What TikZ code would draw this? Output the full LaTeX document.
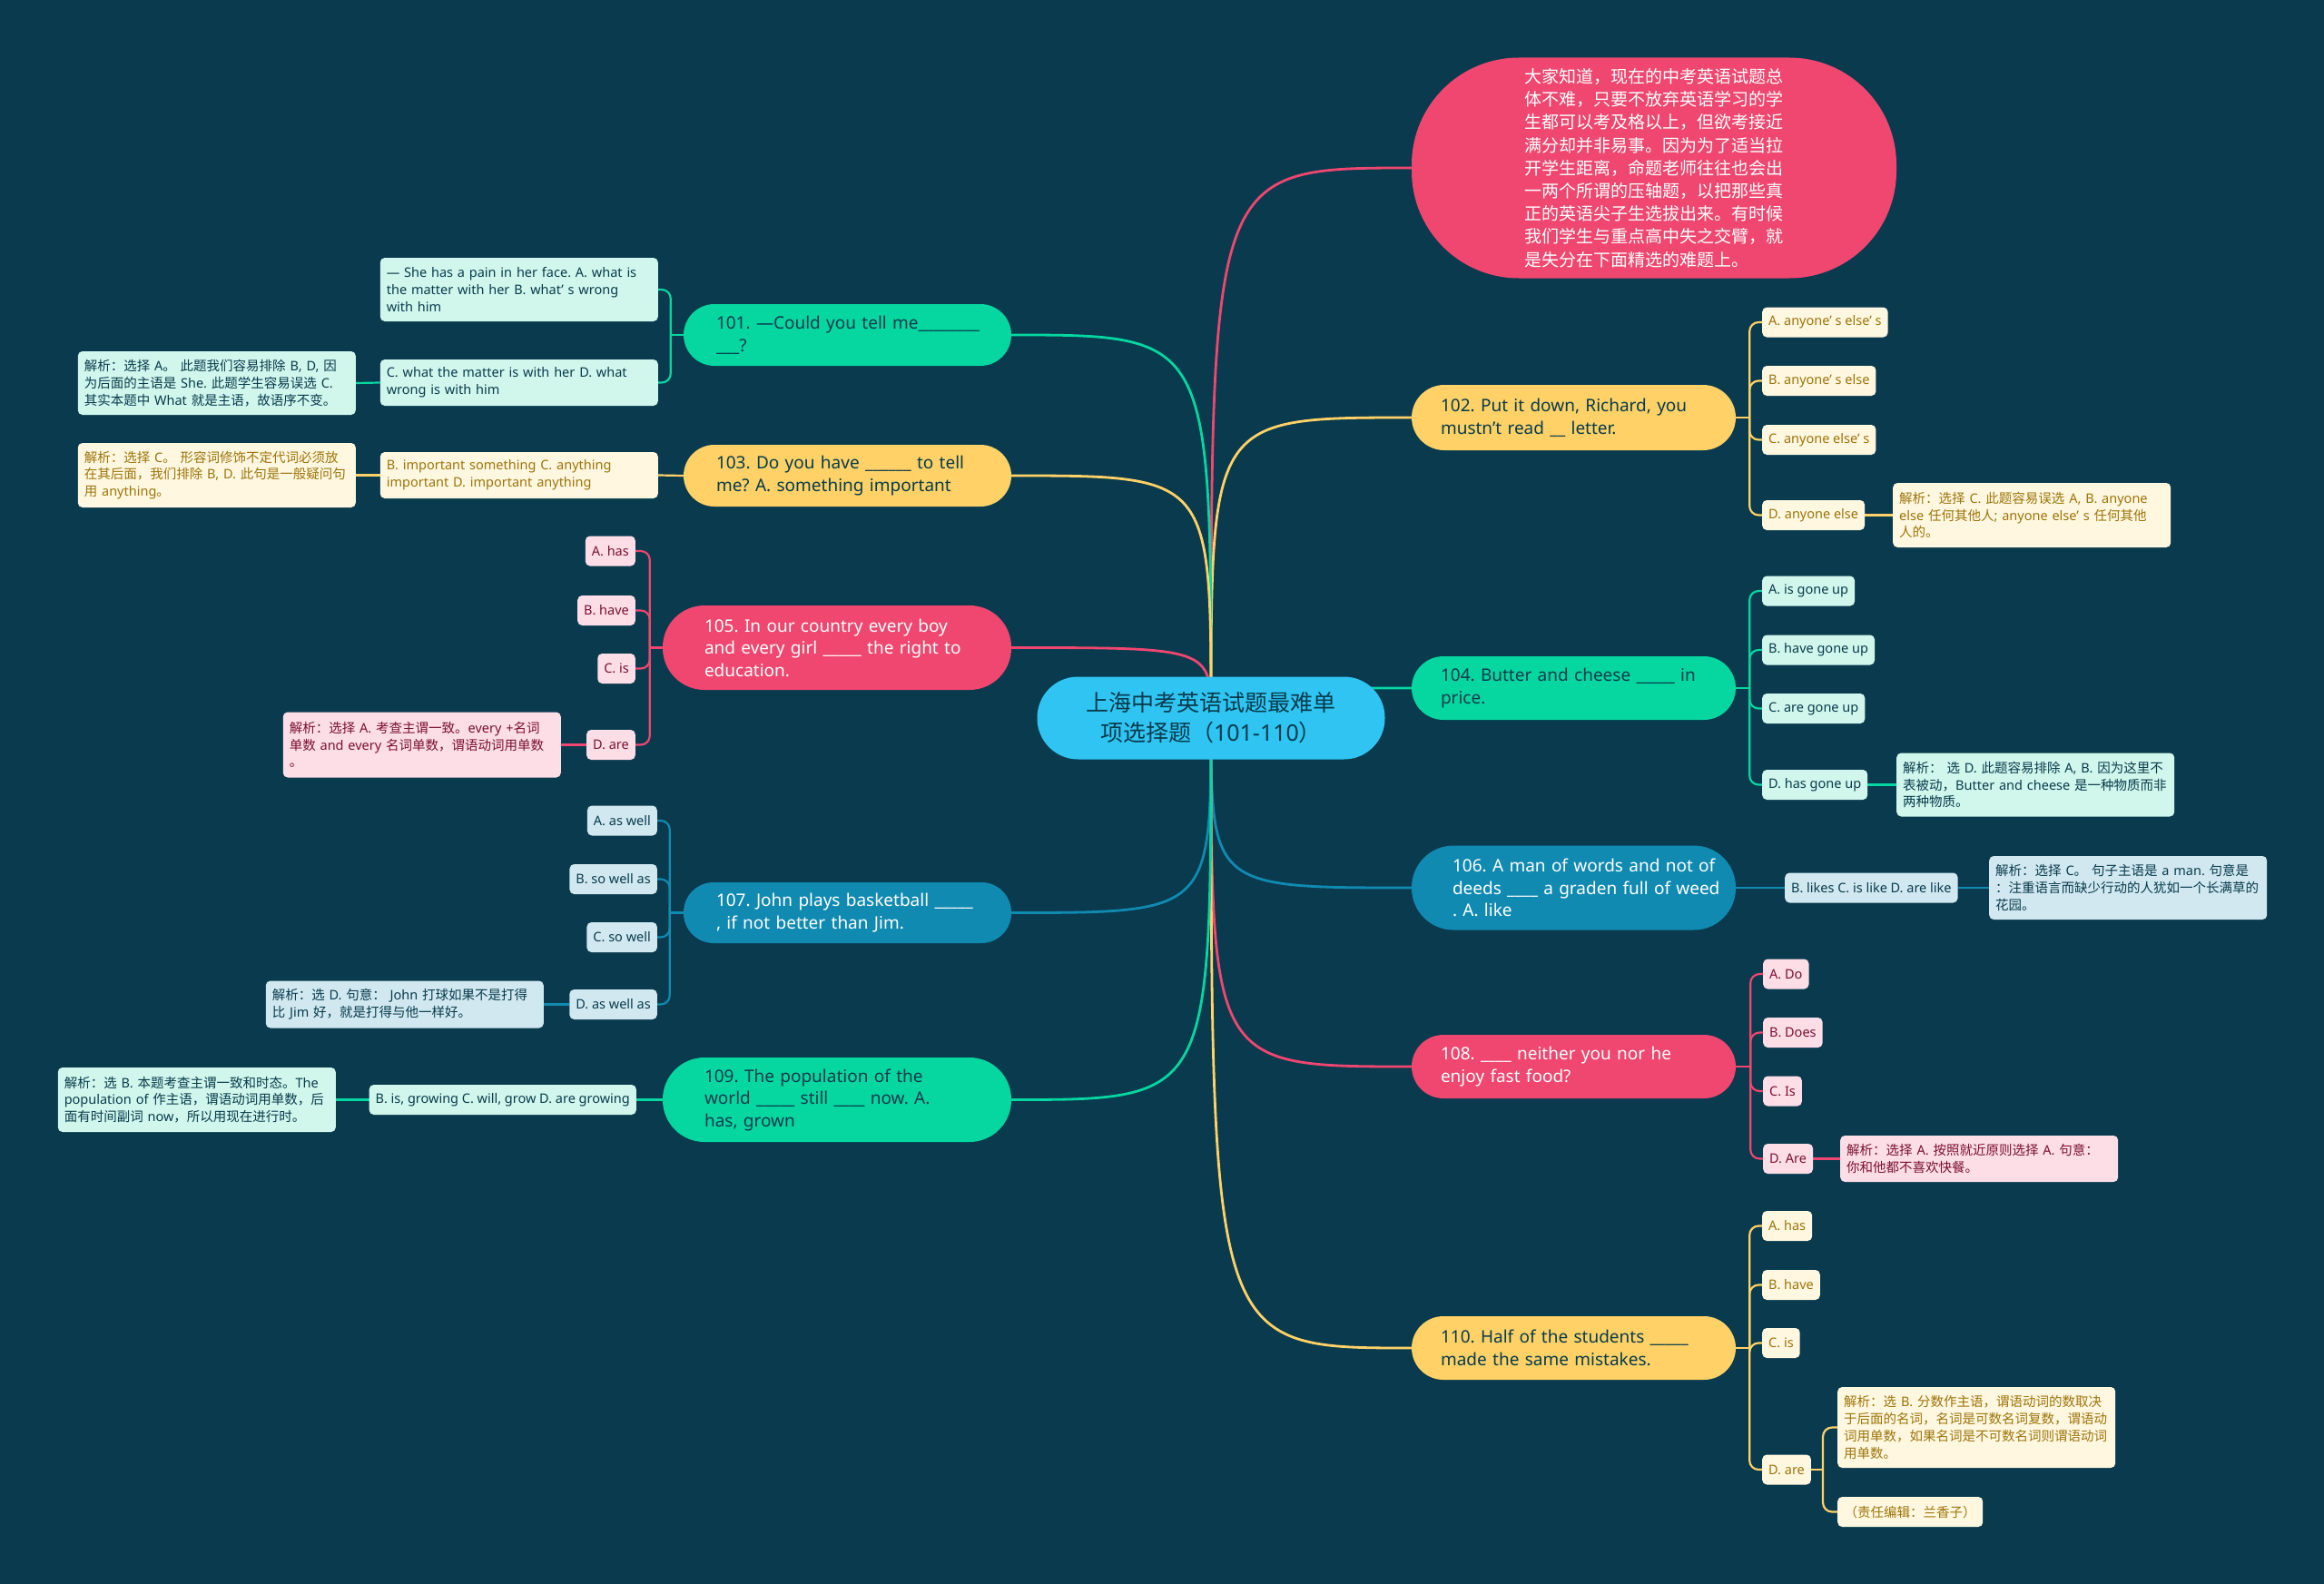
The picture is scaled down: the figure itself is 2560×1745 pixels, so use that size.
\documentclass[tikz,border=0pt]{standalone}
\usepackage{fontspec}
\setmainfont{Noto Sans}
\newfontfamily\cjkfont{Noto Sans CJK SC}
\frenchspacing
\ifdefined\newXeTeXintercharclass \newXeTeXintercharclass\cjkcls \else \chardef\cjkcls=7 \fi
\newcount\cjkn
\def\cjkrange#1#2{\cjkn=#1\relax\loop\XeTeXcharclass\cjkn=\cjkcls\relax\ifnum\cjkn<#2\relax\advance\cjkn by 1\relax\repeat}
\cjkrange{"2E80}{"9FFF}
\cjkrange{"F900}{"FAFF}
\cjkrange{"FE30}{"FE4F}
\cjkrange{"FF00}{"FFEF}
\XeTeXinterchartoks 0 \cjkcls = {\cjkfont}
\XeTeXinterchartoks 4095 \cjkcls = {\cjkfont}
\XeTeXinterchartoks \cjkcls 0 = {\normalfont}
\XeTeXinterchartoks \cjkcls 4095 = {\normalfont}
\XeTeXinterchartokenstate=1
\usetikzlibrary{calc}
\definecolor{bgc}{RGB}{9,58,78}
\definecolor{cred}{RGB}{239,71,111}
\definecolor{cyel}{RGB}{255,209,102}
\definecolor{cgrn}{RGB}{6,214,160}
\definecolor{cblu}{RGB}{17,138,178}
\definecolor{croot}{RGB}{47,196,241}
\definecolor{cdark}{RGB}{7,59,76}
\definecolor{fmint}{RGB}{209,246,236}
\definecolor{fcream}{RGB}{255,247,224}
\definecolor{fpink}{RGB}{253,222,230}
\definecolor{fblue}{RGB}{209,232,240}
\definecolor{tgold}{RGB}{156,116,10}
\definecolor{tred}{RGB}{122,16,48}
\newcommand\qfont{\fontsize{19pt}{24.5pt}\selectfont\frenchspacing}
\newcommand\lfont{\fontsize{14.5pt}{18.7pt}\selectfont\frenchspacing}
\pgfdeclarelayer{back}
\pgfdeclarelayer{lines}
\pgfsetlayers{back,lines,main}
\tikzset{
  qn/.style={inner ysep=0pt, align=left, font=\qfont},
  lf/.style={rounded corners=5pt, inner xsep=7pt, inner ysep=0pt, minimum height=33pt, font=\lfont},
  ex/.style={lf, align=left, text width=292pt},
  mint/.style={fill=fmint, text=cdark},
  cream/.style={fill=fcream, text=tgold},
  pink/.style={fill=fpink, text=tred},
  lblue/.style={fill=fblue, text=cdark},
  br/.style={line width=2.8pt},
  lk/.style={line width=2.2pt},
  bk/.style={line width=2.2pt, rounded corners=10pt},
}
\begin{document}
\begin{tikzpicture}[x=1pt,y=-1pt]
\useasboundingbox (0,0) rectangle (2560,1745);
\begin{pgfonlayer}{back}
\fill[bgc] (0,0) rectangle (2560,1745);
\end{pgfonlayer}

% root and intro
\node[fill=croot, text=cdark, minimum width=383pt, minimum height=91pt, rounded corners=45pt, align=center, inner sep=0pt, font=\fontsize{25pt}{33pt}\selectfont] (root) at (1334,791) {上海中考英语试题最难单\\项选择题（101-110）};
\node[fill=cred, text=white, minimum width=534pt, minimum height=243pt, rounded corners=118pt, text width=286pt, align=left, inner ysep=0pt, font=\fontsize{19pt}{25.2pt}\selectfont] (intro) at (1822,185) {大家知道，现在的中考英语试题总\\体不难，只要不放弃英语学习的学\\生都可以考及格以上，但欲考接近\\满分却并非易事。因为为了适当拉\\开学生距离，命题老师往往也会出\\一两个所谓的压轴题，以把那些真\\正的英语尖子生选拔出来。有时候\\我们学生与重点高中失之交臂，就\\是失分在下面精选的难题上。};

% right question nodes
\node[qn, fill=cyel, text=cdark, minimum height=72pt, rounded corners=36pt, text width=293pt, inner xsep=32pt] (n102) at (1733.5,460) {\mbox{102. Put it down, Richard, you}\\\mbox{mustn’t read \_\_ letter.}};
\node[qn, fill=cgrn, text=cdark, minimum height=70pt, rounded corners=35pt, text width=293pt, inner xsep=32pt] (n104) at (1733.5,758) {\mbox{104. Butter and cheese \_\_\_\_\_ in}\\\mbox{price.}};
\node[qn, fill=cblu, text=white, minimum height=93pt, rounded corners=46pt, text width=267pt, inner xsep=45pt] (n106) at (1733.5,978) {\mbox{106. A man of words and not of}\\\mbox{deeds \_\_\_\_ a graden full of weed}\\\mbox{. A. like}};
\node[qn, fill=cred, text=white, minimum height=70pt, rounded corners=35pt, text width=293pt, inner xsep=32pt] (n108) at (1733.5,1175) {\mbox{108. \_\_\_\_ neither you nor he}\\\mbox{enjoy fast food?}};
\node[qn, fill=cyel, text=cdark, minimum height=70pt, rounded corners=35pt, text width=293pt, inner xsep=32pt] (n110) at (1733.5,1485) {\mbox{110. Half of the students \_\_\_\_\_}\\\mbox{made the same mistakes.}};

% left question nodes
\node[qn, fill=cgrn, text=cdark, minimum height=68pt, rounded corners=34pt, text width=289pt, inner xsep=36pt] (n101) at (933.5,369) {\mbox{101. —Could you tell me\_\_\_\_\_\_\_\_}\\\mbox{\_\_\_?}};
\node[qn, fill=cyel, text=cdark, minimum height=68pt, rounded corners=34pt, text width=289pt, inner xsep=36pt] (n103) at (933.5,524) {\mbox{103. Do you have \_\_\_\_\_\_ to tell}\\\mbox{me? A. something important}};
\node[qn, fill=cred, text=white, minimum height=93pt, rounded corners=46pt, text width=292pt, inner xsep=46pt] (n105) at (922,713.5) {\mbox{105. In our country every boy}\\\mbox{and every girl \_\_\_\_\_ the right to}\\\mbox{education.}};
\node[qn, fill=cblu, text=white, minimum height=67pt, rounded corners=33pt, text width=289pt, inner xsep=36pt] (n107) at (933.5,1005.5) {\mbox{107. John plays basketball \_\_\_\_\_}\\\mbox{, if not better than Jim.}};
\node[qn, fill=cgrn, text=cdark, minimum height=93pt, rounded corners=46pt, text width=292pt, inner xsep=46pt] (n109) at (922,1211.5) {\mbox{109. The population of the}\\\mbox{world \_\_\_\_\_ still \_\_\_\_ now. A.}\\\mbox{has, grown}};

% 101 leaves
\node[ex, mint, minimum height=70pt, anchor=east] (a101) at (725,319) {\mbox{— She has a pain in her face. A. what is}\\\mbox{the matter with her B. what’ s wrong}\\\mbox{with him}};
\node[ex, mint, minimum height=51pt, anchor=east] (b101) at (725,421.5) {\mbox{C. what the matter is with her D. what}\\\mbox{wrong is with him}};
\node[ex, mint, minimum height=70pt, anchor=east] (e101) at (392,422) {\mbox{解析：选择 A。 此题我们容易排除 B, D, 因}\\\mbox{为后面的主语是 She. 此题学生容易误选 C.}\\\mbox{其实本题中 What 就是主语，故语序不变。}};
% 103 leaves
\node[ex, cream, minimum height=51pt, anchor=east] (a103) at (725,523.5) {\mbox{B. important something C. anything}\\\mbox{important D. important anything}};
\node[ex, cream, minimum height=71pt, anchor=east] (e103) at (392,523.5) {\mbox{解析：选择 C。 形容词修饰不定代词必须放}\\\mbox{在其后面，我们排除 B, D. 此句是一般疑问句}\\\mbox{用 anything。}};
% 105 leaves
\node[lf, pink, anchor=east] (a105) at (700,607) {A. has};
\node[lf, pink, anchor=east] (b105) at (700,672.5) {B. have};
\node[lf, pink, anchor=east] (c105) at (700,736.5) {C. is};
\node[lf, pink, anchor=east] (d105) at (700,820.5) {D. are};
\node[ex, pink, minimum height=72pt, anchor=east] (e105) at (618,820.5) {\mbox{解析：选择 A. 考查主谓一致。every +名词}\\\mbox{单数 and every 名词单数，谓语动词用单数}\\\mbox{。}};
% 107 leaves
\node[lf, lblue, anchor=east] (a107) at (724,904) {A. as well};
\node[lf, lblue, anchor=east] (b107) at (724,968.5) {B. so well as};
\node[lf, lblue, anchor=east] (c107) at (724,1032.5) {C. so well};
\node[lf, lblue, anchor=east] (d107) at (724,1106.5) {D. as well as};
\node[ex, lblue, minimum height=52pt, anchor=east] (e107) at (599,1106.5) {\mbox{解析：选 D. 句意： John 打球如果不是打得}\\\mbox{比 Jim 好，就是打得与他一样好。}};
% 109 leaves
\node[lf, mint, anchor=east] (a109) at (701,1211.5) {B. is, growing C. will, grow D. are growing};
\node[ex, mint, minimum height=71pt, anchor=east] (e109) at (370,1211.5) {\mbox{解析：选 B. 本题考查主谓一致和时态。The}\\\mbox{population of 作主语，谓语动词用单数，后}\\\mbox{面有时间副词 now，所以用现在进行时。}};

% 102 leaves
\node[lf, cream, anchor=west] (a102) at (1941,355) {A. anyone’ s else’ s};
\node[lf, cream, anchor=west] (b102) at (1941,419.5) {B. anyone’ s else};
\node[lf, cream, anchor=west] (c102) at (1941,484.5) {C. anyone else’ s};
\node[lf, cream, anchor=west] (d102) at (1941,567.5) {D. anyone else};
\node[ex, cream, minimum height=71pt, anchor=west] (e102) at (2085,567.5) {\mbox{解析：选择 C. 此题容易误选 A, B. anyone}\\\mbox{else 任何其他人; anyone else’ s 任何其他}\\\mbox{人的。}};
% 104 leaves
\node[lf, mint, anchor=west] (a104) at (1941,651) {A. is gone up};
\node[lf, mint, anchor=west] (b104) at (1941,716) {B. have gone up};
\node[lf, mint, anchor=west] (c104) at (1941,780.5) {C. are gone up};
\node[lf, mint, anchor=west] (d104) at (1941,864.5) {D. has gone up};
\node[ex, mint, minimum height=70pt, anchor=west] (e104) at (2089,864.5) {\mbox{解析： 选 D. 此题容易排除 A, B. 因为这里不}\\\mbox{表被动，Butter and cheese 是一种物质而非}\\\mbox{两种物质。}};
% 106 leaves
\node[lf, lblue, anchor=west] (a106) at (1966,978) {B. likes C. is like D. are like};
\node[ex, lblue, minimum height=70pt, anchor=west] (e106) at (2191,978) {\mbox{解析：选择 C。 句子主语是 a man. 句意是}\\\mbox{：注重语言而缺少行动的人犹如一个长满草的}\\\mbox{花园。}};
% 108 leaves
\node[lf, pink, anchor=west] (a108) at (1942,1073) {A. Do};
\node[lf, pink, anchor=west] (b108) at (1942,1137.5) {B. Does};
\node[lf, pink, anchor=west] (c108) at (1942,1202) {C. Is};
\node[lf, pink, anchor=west] (d108) at (1942,1276.5) {D. Are};
\node[ex, pink, minimum height=51pt, anchor=west] (e108) at (2027,1276.5) {\mbox{解析：选择 A. 按照就近原则选择 A. 句意：}\\\mbox{你和他都不喜欢快餐。}};
% 110 leaves
\node[lf, cream, anchor=west] (a110) at (1941,1350.5) {A. has};
\node[lf, cream, anchor=west] (b110) at (1941,1415.5) {B. have};
\node[lf, cream, anchor=west] (c110) at (1941,1479.5) {C. is};
\node[lf, cream, anchor=west] (d110) at (1941,1619) {D. are};
\node[ex, cream, minimum height=89pt, anchor=west] (e110) at (2024,1572.5) {\mbox{解析：选 B. 分数作主语，谓语动词的数取决}\\\mbox{于后面的名词，名词是可数名词复数，谓语动}\\\mbox{词用单数，如果名词是不可数名词则谓语动词}\\\mbox{用单数。}};
\node[lf, cream, minimum width=160pt, anchor=west] (f110) at (2024,1665.5) {（责任编辑：兰香子）};

\begin{pgfonlayer}{lines}
% main branches
\draw[br,cred] (root.center) .. controls (root.center |- intro.west) .. (intro.west);
\draw[br,cyel] (root.center) .. controls (root.center |- n102.west) .. (n102.west);
\draw[br,cgrn] (root.center) .. controls (root.center |- n104.west) .. (n104.west);
\draw[br,cblu] (root.center) .. controls (root.center |- n106.west) .. (n106.west);
\draw[br,cred] (root.center) .. controls (root.center |- n108.west) .. (n108.west);
\draw[br,cyel] (root.center) .. controls (root.center |- n110.west) .. (n110.west);
\draw[br,cgrn] (root.center) .. controls (root.center |- n101.east) .. (n101.east);
\draw[br,cyel] (root.center) .. controls (root.center |- n103.east) .. (n103.east);
\draw[br,cred] (root.center) .. controls (root.center |- n105.east) .. (n105.east);
\draw[br,cblu] (root.center) .. controls (root.center |- n107.east) .. (n107.east);
\draw[br,cgrn] (root.center) .. controls (root.center |- n109.east) .. (n109.east);
% 101
\draw[lk,cgrn] (n101.west) -- ++(-14,0);
\draw[bk,cgrn] ($(n101.west)+(-14,0)$) |- (a101.east);
\draw[bk,cgrn] ($(n101.west)+(-14,0)$) |- (b101.east);
\draw[lk,cgrn] (b101.west) -- (e101.east);
% 103
\draw[lk,cyel] (n103.west) -- (a103.east);
\draw[lk,cyel] (a103.west) -- (e103.east);
% 105
\draw[lk,cred] (n105.west) -- ++(-14,0);
\foreach \c in {a105,b105,c105,d105}{\draw[bk,cred] ($(n105.west)+(-14,0)$) |- (\c.east);}
\draw[lk,cred] (d105.west) -- (e105.east);
% 107
\draw[lk,cblu] (n107.west) -- ++(-15,0);
\foreach \c in {a107,b107,c107,d107}{\draw[bk,cblu] ($(n107.west)+(-15,0)$) |- (\c.east);}
\draw[lk,cblu] (d107.west) -- (e107.east);
% 109
\draw[lk,cgrn] (n109.west) -- (a109.east);
\draw[lk,cgrn] (a109.west) -- (e109.east);
% 102
\draw[lk,cyel] (n102.east) -- ++(15,0);
\foreach \c in {a102,b102,c102,d102}{\draw[bk,cyel] ($(n102.east)+(15,0)$) |- (\c.west);}
\draw[lk,cyel] (d102.east) -- (e102.west);
% 104
\draw[lk,cgrn] (n104.east) -- ++(15,0);
\foreach \c in {a104,b104,c104,d104}{\draw[bk,cgrn] ($(n104.east)+(15,0)$) |- (\c.west);}
\draw[lk,cgrn] (d104.east) -- (e104.west);
% 106
\draw[lk,cblu] (n106.east) -- (a106.west);
\draw[lk,cblu] (a106.east) -- (e106.west);
% 108
\draw[lk,cred] (n108.east) -- ++(16,0);
\foreach \c in {a108,b108,c108,d108}{\draw[bk,cred] ($(n108.east)+(16,0)$) |- (\c.west);}
\draw[lk,cred] (d108.east) -- (e108.west);
% 110
\draw[lk,cyel] (n110.east) -- ++(15,0);
\foreach \c in {a110,b110,c110,d110}{\draw[bk,cyel] ($(n110.east)+(15,0)$) |- (\c.west);}
\draw[lk,cyel] (d110.east) -- ++(13,0);
\draw[bk,cyel] ($(d110.east)+(13,0)$) |- (e110.west);
\draw[bk,cyel] ($(d110.east)+(13,0)$) |- (f110.west);
\end{pgfonlayer}
\end{tikzpicture}
\end{document}
